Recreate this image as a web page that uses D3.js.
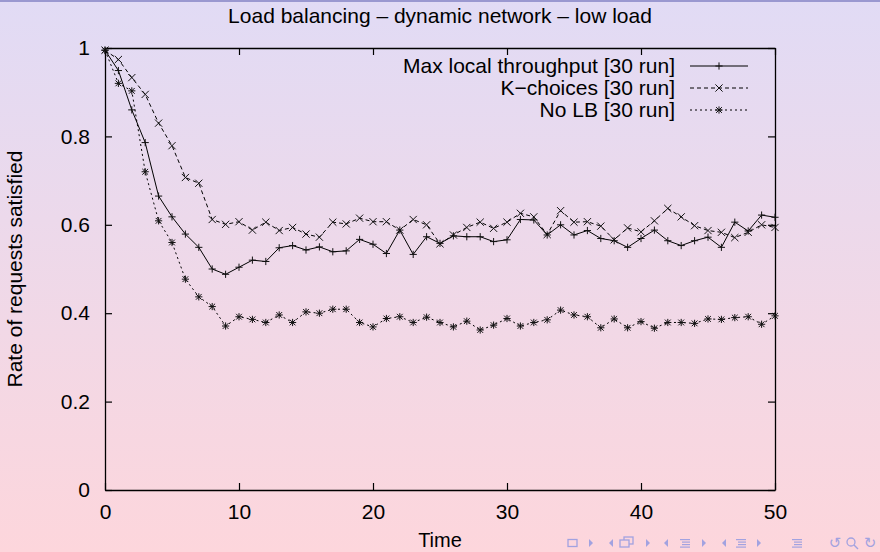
<!DOCTYPE html>
<html>
<head>
<meta charset="utf-8">
<script src="https://cdn.jsdelivr.net/npm/d3@7"></script>
<style>
  body { margin: 0; padding: 0; }
  svg { display: block; font-family: "Liberation Sans", Arial, Helvetica, sans-serif; }
</style>
</head>
<body>
<div id="chart"></div>
<script>
// data
var times = d3.range(0, 51);
var maxLocal = [0.995, 0.949, 0.86, 0.786, 0.665, 0.618, 0.579, 0.549, 0.5, 0.488,
  0.504, 0.52, 0.517, 0.548, 0.553, 0.543, 0.55, 0.539, 0.541, 0.567,
  0.556, 0.535, 0.588, 0.533, 0.573, 0.558, 0.575, 0.573, 0.573, 0.562,
  0.566, 0.612, 0.611, 0.577, 0.6, 0.577, 0.587, 0.569, 0.564, 0.549,
  0.569, 0.588, 0.564, 0.553, 0.564, 0.572, 0.549, 0.606, 0.586, 0.622, 0.617];
var kChoices = [0.995, 0.974, 0.933, 0.895, 0.83, 0.779, 0.707, 0.694, 0.612, 0.601,
  0.607, 0.588, 0.606, 0.587, 0.594, 0.579, 0.572, 0.606, 0.602, 0.615,
  0.607, 0.607, 0.588, 0.612, 0.6, 0.557, 0.577, 0.594, 0.606, 0.592,
  0.606, 0.626, 0.618, 0.578, 0.632, 0.606, 0.607, 0.597, 0.566, 0.593,
  0.584, 0.609, 0.637, 0.618, 0.598, 0.587, 0.583, 0.571, 0.583, 0.6, 0.594];
var noLB = [0.995, 0.92, 0.903, 0.72, 0.609, 0.56, 0.477, 0.437, 0.415, 0.371,
  0.392, 0.386, 0.379, 0.396, 0.379, 0.403, 0.4, 0.409, 0.409, 0.379,
  0.369, 0.388, 0.392, 0.379, 0.391, 0.379, 0.369, 0.382, 0.362, 0.373,
  0.388, 0.371, 0.379, 0.385, 0.407, 0.396, 0.392, 0.367, 0.387, 0.367,
  0.381, 0.366, 0.379, 0.379, 0.377, 0.387, 0.386, 0.39, 0.392, 0.375, 0.394];
var seriesNames = ["Max local throughput [30 run]", "K\u2212choices [30 run]", "No LB [30 run]"];
var xTicks = [0, 10, 20, 30, 40, 50];
var yTicks = [0, 0.2, 0.4, 0.6, 0.8, 1];

var W = 880, H = 552;
var margin = { top: 48, right: 105, bottom: 62, left: 105 };
var width = W - margin.left - margin.right,
  height = H - margin.top - margin.bottom;

var svg = d3.select("#chart").append("svg")
  .attr("width", W)
  .attr("height", H);

// beamer background
var defs = svg.append("defs");
var grad = defs.append("linearGradient").attr("id", "bg")
  .attr("x1", 0).attr("y1", 0).attr("x2", 0).attr("y2", 1);
grad.append("stop").attr("offset", "0%").style("stop-color", "#e1dbf5");
grad.append("stop").attr("offset", "100%").style("stop-color", "#fdd6dc");
svg.append("rect").attr("width", W).attr("height", H).attr("fill", "url(#bg)");
svg.append("rect").attr("width", W).attr("height", 2).attr("fill", "#9a98d0");

svg.append("text")
  .attr("x", W / 2).attr("y", 23)
  .attr("text-anchor", "middle")
  .style("font-size", "21px")
  .text("Load balancing \u2013 dynamic network \u2013 low load");

var g = svg.append("g").attr("transform", "translate(" + margin.left + "," + margin.top + ")");

var x = d3.scaleLinear().domain([0, 50]).range([0, width]);
var y = d3.scaleLinear().domain([0, 1]).range([height, 0]);

// axes (gnuplot style: ticks inside, mirrored)
var fmt = function (d) { return d3.format("")(+d.toFixed(1)); };
var xAxis = g.append("g").attr("transform", "translate(0," + height + ")")
  .call(d3.axisBottom(x).tickValues(xTicks).tickSizeInner(-7).tickSizeOuter(0).tickPadding(14).tickFormat(fmt));
var xAxisTop = g.append("g")
  .call(d3.axisTop(x).tickValues(xTicks).tickSizeInner(-7).tickSizeOuter(0).tickFormat(""));
var yAxis = g.append("g")
  .call(d3.axisLeft(y).tickValues(yTicks).tickSizeInner(-7).tickSizeOuter(0).tickPadding(15).tickFormat(fmt));
var yAxisRight = g.append("g").attr("transform", "translate(" + width + ",0)")
  .call(d3.axisRight(y).tickValues(yTicks).tickSizeInner(-7).tickSizeOuter(0).tickFormat(""));

g.selectAll(".domain").attr("stroke", "#000").attr("stroke-width", 1.3);
g.selectAll(".tick line").attr("stroke", "#000").attr("stroke-width", 1.2);
g.selectAll(".tick text").style("font-size", "21px").attr("fill", "#000")
  .style("font-family", "'Liberation Sans', Arial, sans-serif");

g.append("text")
  .attr("x", width / 2).attr("y", height + 57)
  .attr("text-anchor", "middle")
  .style("font-size", "20px")
  .text("Time");

g.append("text")
  .attr("transform", "translate(" + (-83) + "," + (height / 2) + ") rotate(-90)")
  .attr("text-anchor", "middle")
  .style("font-size", "21px")
  .text("Rate of requests satisfied");

// markers
function plusMark(sel, s) {
  sel.append("path").attr("d", "M" + (-s) + ",0H" + s + "M0," + (-s) + "V" + s);
}
function crossMark(sel, s) {
  sel.append("path").attr("d", "M" + (-s) + "," + (-s) + "L" + s + "," + s + "M" + (-s) + "," + s + "L" + s + "," + (-s));
}
function starMark(sel, s) {
  plusMark(sel, s);
  crossMark(sel, s * 0.8);
}

var series = [
  { name: seriesNames[0], values: maxLocal, dash: null, mark: plusMark },
  { name: seriesNames[1], values: kChoices, dash: "4,3", mark: crossMark },
  { name: seriesNames[2], values: noLB, dash: "2,3", mark: starMark }
];

var line = d3.line()
  .x(function (d, i) { return x(times[i]); })
  .y(function (d) { return y(d); });

series.forEach(function (s) {
  g.append("path")
    .datum(s.values)
    .attr("fill", "none")
    .attr("stroke", "#000")
    .attr("stroke-width", 1)
    .attr("stroke-dasharray", s.dash)
    .attr("d", line);
  var pts = g.append("g").attr("stroke", "#111").attr("stroke-width", 1).attr("fill", "none");
  s.values.forEach(function (v, i) {
    var p = pts.append("g").attr("transform", "translate(" + x(times[i]) + "," + y(v) + ")");
    s.mark(p, 3.6);
  });
});

// legend
var legend = g.append("g");
series.forEach(function (s, i) {
  var ly = 18 + i * 22;
  legend.append("text")
    .attr("x", 570).attr("y", ly + 7)
    .attr("text-anchor", "end")
    .style("font-size", "21px")
    .text(s.name);
  legend.append("line")
    .attr("x1", 585).attr("x2", 643).attr("y1", ly).attr("y2", ly)
    .attr("stroke", "#000").attr("stroke-width", 1)
    .attr("stroke-dasharray", s.dash);
  var p = legend.append("g").attr("transform", "translate(614," + ly + ")")
    .attr("stroke", "#111").attr("stroke-width", 1).attr("fill", "none");
  s.mark(p, 3.6);
});

// beamer navigation symbols
var nav = svg.append("g").attr("fill", "#a2a2e0").attr("stroke", "#a2a2e0");
var ny = 543;
function triR(xp) { nav.append("path").attr("stroke", "none").attr("d", "M" + xp + "," + (ny - 4) + "L" + (xp + 4) + "," + ny + "L" + xp + "," + (ny + 4) + "Z"); }
function triL(xp) { nav.append("path").attr("stroke", "none").attr("d", "M" + (xp + 4) + "," + (ny - 4) + "L" + xp + "," + ny + "L" + (xp + 4) + "," + (ny + 4) + "Z"); }
function lines3(xp) {
  [-4, -1.5, 1, 3.5].forEach(function (o, k) {
    nav.append("rect").attr("stroke", "none").attr("x", xp + (k === 0 || k === 3 ? 0 : 2)).attr("y", ny + o).attr("width", k === 0 || k === 3 ? 10 : 8).attr("height", 1.2);
  });
}
nav.append("rect").attr("x", 568).attr("y", ny - 3.5).attr("width", 9).attr("height", 7).attr("fill", "none").attr("stroke-width", 1.3);
triR(589); triL(609);
nav.append("rect").attr("x", 624).attr("y", ny - 6).attr("width", 9).attr("height", 7).attr("fill", "none").attr("stroke-width", 1.3);
nav.append("rect").attr("x", 620).attr("y", ny - 3).attr("width", 9).attr("height", 7).attr("fill", "#f9d6de").attr("stroke-width", 1.3);
triR(646); triL(664); lines3(680); triR(702); triL(722); lines3(736); triR(757); lines3(792);
nav.append("text").attr("x", 835).attr("y", ny + 5).attr("text-anchor", "middle").attr("stroke", "none")
  .style("font-family", "DejaVu Sans").style("font-size", "15px").text("\u21ba");
nav.append("circle").attr("cx", 851).attr("cy", ny - 1).attr("r", 4).attr("fill", "none").attr("stroke-width", 1.3);
nav.append("line").attr("x1", 854).attr("y1", ny + 2).attr("x2", 858).attr("y2", ny + 6).attr("stroke-width", 1.5);
nav.append("text").attr("x", 870).attr("y", ny + 5).attr("text-anchor", "middle").attr("stroke", "none")
  .style("font-family", "DejaVu Sans").style("font-size", "15px").text("\u21bb");
</script>
</body>
</html>
